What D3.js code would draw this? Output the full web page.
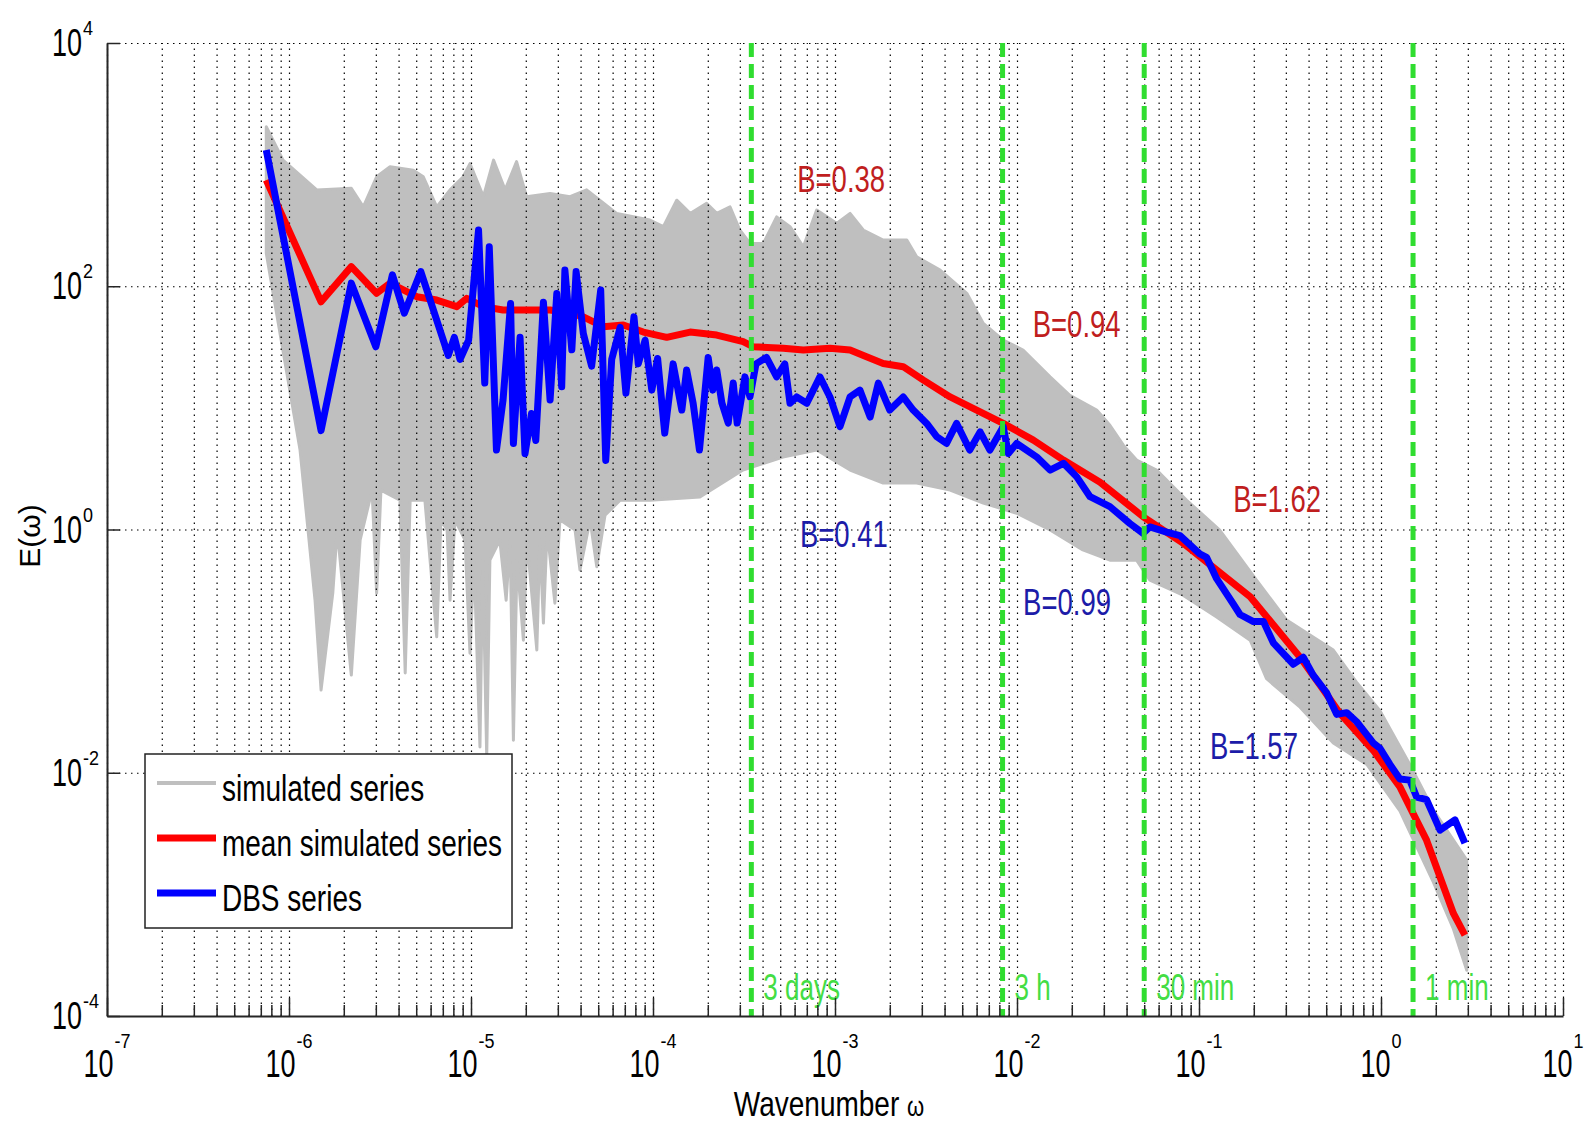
<!DOCTYPE html>
<html>
<head>
<meta charset="utf-8">
<script src="https://cdn.jsdelivr.net/npm/d3@7"></script>
<style>
body { margin: 0; background: #fff; }
svg { display: block; font-family: "Liberation Sans", Arial, sans-serif; }
.grid line { stroke: #000; stroke-width: 1.2; stroke-dasharray: 1.5 4.5; }
.axis path, .axis line { stroke: #262626; }
.axis path { stroke-width: 2; }
.axis line { stroke-width: 1.5; }
</style>
</head>
<body>
<div id="chart"></div>
<script>
// DBS series (wavenumber, energy)
const dbsW = [7.5e-7,1.5e-6,2.2e-6,3.0e-6,3.7e-6,4.3e-6,5.3e-6,7.5e-6,8.1e-6,8.7e-6,
	9.7e-6,1.1e-5,1.19e-5,1.26e-5,1.38e-5,1.5e-5,1.65e-5,1.71e-5,1.86e-5,1.98e-5,
	2.15e-5,2.27e-5,2.5e-5,2.72e-5,2.96e-5,3.15e-5,3.28e-5,3.58e-5,3.78e-5,4.14e-5,
	4.6e-5,5.16e-5,5.5e-5,5.93e-5,6.6e-5,7.1e-5,7.86e-5,8.3e-5,9.05e-5,9.85e-5,
	1.06e-4,1.16e-4,1.29e-4,1.44e-4,1.53e-4,1.66e-4,1.8e-4,2.01e-4,2.13e-4,2.24e-4,
	2.39e-4,2.59e-4,2.76e-4,2.9e-4,3.2e-4,3.41e-4,3.68e-4,4.2e-4,4.78e-4,5.3e-4,
	5.66e-4,6.16e-4,7.0e-4,8.26e-4,9.38e-4,1.065e-3,1.21e-3,1.37e-3,1.56e-3,1.73e-3,
	2.0e-3,2.37e-3,2.69e-3,3.19e-3,3.62e-3,4.1e-3,4.66e-3,5.5e-3,6.27e-3,7.1e-3,
	8.4e-3,8.96e-3,9.96e-3,1.28e-2,1.52e-2,1.8e-2,2.13e-2,2.52e-2,3.24e-2,4.17e-2,
	4.93e-2,5.37e-2,6.64e-2,7.86e-2,0.101,0.110,0.125,0.154,0.168,0.199,
	0.226,0.256,0.33,0.374,0.424,0.503,0.571,0.648,0.733,0.906,
	0.987,1.12,1.27,1.44,1.57,1.78,2.11,2.55,2.89];
const dbsE = [1320,6.5,106,31.8,124,60,132,27,38,25,
	36,290,16,211,4.5,11.6,72,5.1,38,4.2,
	9.0,5.4,74,11.6,87,14.9,136,30,132,41,
	22,93,3.7,25,46,13.2,56,23,36,14,
	25.5,6.2,23,9.6,20.5,11,4.5,26,14,20.5,
	11,7.5,16,7.5,18,12.3,23,26,18,23,
	10.9,12.3,10.9,18,12.3,7.0,12.3,14,8.4,16,
	9.6,12.3,9.6,7.45,5.8,5.1,7.45,4.5,6.35,4.5,
	7.0,4.22,5.1,3.96,3.08,3.5,2.71,1.86,1.54,1.12,
	0.93,1.05,0.95,0.89,0.63,0.59,0.394,0.245,0.20,0.175,
	0.175,0.117,0.078,0.089,0.0635,0.0453,0.0302,0.0312,0.0264,0.0176,
	0.0159,0.0117,0.0089,0.0087,0.0063,0.0060,0.00337,0.0041,0.00264];

// mean of the simulated series
const meanW = [7.5e-7,1.5e-6,2.2e-6,3.03e-6,3.59e-6,5.03e-6,6.48e-6,8.36e-6,9.47e-6,1.17e-5,
	1.5e-5,2.02e-5,2.72e-5,3.5e-5,4.14e-5,5.33e-5,6.87e-5,8.85e-5,1.19e-4,1.6e-4,
	2.24e-4,3.13e-4,3.56e-4,5.2e-4,6.7e-4,9.38e-4,1.21e-3,1.49e-3,1.84e-3,2.37e-3,
	3.06e-3,4.29e-3,6.0e-3,8.4e-3,1.23e-2,1.8e-2,2.86e-2,4.94e-2,8.2e-2,0.125,
	0.191,0.359,0.463,0.595,0.906,1.27,1.5,1.78,2.11,2.5,2.89];
const meanE = [746,74.5,145,87.5,106,82,77,68,79.5,68,
	63.7,63.7,63.7,60,56,46.5,48,42,38,42,
	39.7,35,31.8,30.9,29.9,30.9,29.9,26.3,23.2,21.8,
	16.9,12.3,9.6,7.45,5.43,3.72,2.45,1.27,0.77,0.464,
	0.28,0.089,0.0525,0.0307,0.0153,0.00765,0.00463,0.00279,0.00139,0.000697,0.000462];

// upper and lower edge of the cloud of simulated series
const simUpperW = [7.5e-7,9.27e-7,1.42e-6,2.2e-6,2.56e-6,3.03e-6,3.59e-6,4.82e-6,5.47e-6,6.48e-6,
	7.67e-6,9.06e-6,9.87e-6,1.17e-5,1.33e-5,1.54e-5,1.78e-5,2.02e-5,2.72e-5,3.5e-5,
	4.32e-5,6.31e-5,9.62e-5,1.14e-4,1.35e-4,1.6e-4,1.97e-4,2.24e-4,2.65e-4,3.0e-4,
	3.41e-4,4.04e-4,4.78e-4,5.66e-4,6.7e-4,7.93e-4,1.02e-3,1.21e-3,1.43e-3,1.84e-3,
	2.48e-3,2.81e-3,3.78e-3,5.3e-3,6.53e-3,8.4e-3,1.08e-2,1.52e-2,1.95e-2,2.74e-2,
	3.24e-2,3.84e-2,4.54e-2,5.85e-2,8.56e-2,0.130,0.207,0.303,0.547,0.733,
	0.987,1.44,1.94,2.96];
const simUpperE = [2050,1090,620,640,450,795,960,900,795,450,
	620,795,1020,545,1090,620,1060,545,580,545,
	620,397,350,309,510,397,480,397,450,290,
	225,225,372,309,211,423,329,397,290,240,
	240,175,136,87.5,49.5,36,29.9,18,12.7,9.6,
	7.2,4.94,3.72,3.08,1.74,0.99,0.384,0.18,0.102,0.0556,
	0.0323,0.0117,0.00493,0.00191];
const simLowerW = [7.5e-7,1.15e-6,1.39e-6,1.5e-6,1.74e-6,1.84e-6,2.2e-6,2.46e-6,2.86e-6,3.03e-6,
	3.2e-6,4.07e-6,4.35e-6,4.63e-6,5.58e-6,6.48e-6,6.84e-6,7.39e-6,7.67e-6,8.17e-6,
	9.27e-6,9.87e-6,1.04e-5,1.12e-5,1.16e-5,1.22e-5,1.27e-5,1.44e-5,1.56e-5,1.64e-5,
	1.71e-5,1.79e-5,1.94e-5,2.03e-5,2.3e-5,2.39e-5,2.5e-5,2.62e-5,2.89e-5,3.08e-5,
	3.73e-5,3.97e-5,4.51e-5,4.91e-5,5.45e-5,6.6e-5,9.62e-5,1.81e-4,3.12e-4,5.18e-4,
	7.93e-4,1.21e-3,1.84e-3,2.81e-3,4.29e-3,6.53e-3,9.96e-3,1.52e-2,2.3e-2,3.24e-2,
	4.54e-2,5.37e-2,8.17e-2,0.125,0.191,0.235,0.359,0.547,0.836,1.27,
	1.57,1.94,2.5,2.96];
const simLowerE = [187,4.5,0.262,0.0478,0.30,0.99,0.0635,0.82,2.11,0.30,
	2.11,1.74,0.066,1.74,1.74,0.131,1.2,0.99,0.262,1.2,
	0.82,0.096,0.56,0.0163,0.56,0.0135,0.56,0.82,0.262,0.82,
	0.0185,0.56,0.123,0.82,0.102,0.82,0.17,0.99,0.248,1.2,
	0.99,0.464,1.2,0.493,1.31,1.74,1.74,1.85,3.08,3.94,
	4.5,3.08,2.41,2.41,2.11,1.65,1.36,0.99,0.68,0.56,
	0.56,0.384,0.288,0.191,0.123,0.0593,0.0346,0.0176,0.0117,0.00486,
	0.00247,0.00126,0.00052,0.000238];

// time scale markers
const markW = [3.47e-4, 8.33e-3, 0.05, 1.5];
const markText = ["3 days", "3 h", "30 min", "1 min"];

// slope annotations
const slopeText = ["B=0.38", "B=0.94", "B=1.62", "B=0.41", "B=0.99", "B=1.57"];
const slopeW = [6.2e-4, 1.22e-2, 0.154, 6.42e-4, 1.08e-2, 0.115];
const slopeE = [600, 38, 1.38, 0.72, 0.198, 0.0129];
const slopeOf = ["mean", "mean", "mean", "dbs", "dbs", "dbs"];

const legendText = ["simulated series", "mean simulated series", "DBS series"];
const yMajor = [1e-4, 1e-2, 1, 1e2, 1e4];

const margin = {top: 43, right: 25, bottom: 113, left: 107},
	width = 1588 - margin.left - margin.right,
	height = 1129 - margin.top - margin.bottom;
const gray = "#bfbfbf", red = "#ff0000", blue = "#0000ff", green = "#30dd30";

const svg = d3.select("#chart").append("svg")
	.attr("width", 1588)
	.attr("height", 1129);
const g = svg.append("g")
	.attr("transform", "translate(" + margin.left + "," + margin.top + ")");

const x = d3.scaleLog().domain([1e-7, 10]).range([0, width]);
const y = d3.scaleLog().domain([1e-4, 1e4]).range([height, 0]);
const line = d3.line().x(d => x(d[0])).y(d => y(d[1]));
const zip = (a, b) => a.map((v, i) => [v, b[i]]);

// simulated series cloud
const band = zip(simUpperW, simUpperE).concat(zip(simLowerW, simLowerE).reverse());
g.append("path")
	.attr("d", line(band) + "Z")
	.attr("fill", gray)
	.attr("stroke", gray)
	.attr("stroke-width", 3)
	.attr("stroke-linejoin", "round");

// dotted grid
const xAll = x.ticks();
const xMajor = xAll.filter(v => Math.abs(Math.log10(v) - Math.round(Math.log10(v))) < 1e-9);
const xMinor = xAll.filter(v => !xMajor.includes(v));
g.append("g").attr("class", "grid")
	.attr("transform", "translate(0," + height + ")")
	.call(d3.axisBottom(x).tickValues(xAll).tickSize(-height).tickFormat(""))
	.call(s => s.select(".domain").remove());
g.append("g").attr("class", "grid")
	.call(d3.axisLeft(y).tickValues(yMajor).tickSize(-width).tickFormat(""))
	.call(s => s.select(".domain").remove());

// mean and DBS
g.append("path").attr("d", line(zip(meanW, meanE)))
	.attr("fill", "none").attr("stroke", red).attr("stroke-width", 7).attr("stroke-linejoin", "round");
g.append("path").attr("d", line(zip(dbsW, dbsE)))
	.attr("fill", "none").attr("stroke", blue).attr("stroke-width", 7).attr("stroke-linejoin", "round");

// time scale markers
g.selectAll(".mark").data(markW).enter().append("line")
	.attr("class", "mark")
	.attr("x1", d => x(d)).attr("x2", d => x(d))
	.attr("y1", 0).attr("y2", height)
	.attr("stroke", green).attr("stroke-width", 5).attr("stroke-dasharray", "14 7");
g.selectAll(".markText").data(markW).enter().append("text")
	.attr("class", "markText")
	.attr("transform", d => "translate(" + (x(d) + 12) + "," + (height - 16) + ") scale(1,1.4)")
	.attr("font-size", 26)
	.attr("fill", "#44dd44")
	.text((d, i) => markText[i]);

// slope labels
slopeText.forEach((t, i) => {
	g.append("text")
		.attr("transform", "translate(" + x(slopeW[i]) + "," + y(slopeE[i]) + ") scale(1,1.37)")
		.attr("font-size", 27.5)
		.attr("fill", slopeOf[i] === "mean" ? "#c01e1e" : "#1c1ca8")
		.text(t);
});

// axes
g.append("g").attr("class", "axis")
	.attr("transform", "translate(0," + height + ")")
	.call(d3.axisBottom(x).tickValues(xMinor).tickSize(-11).tickSizeOuter(0).tickFormat(""));
g.append("g").attr("class", "axis")
	.attr("transform", "translate(0," + height + ")")
	.call(d3.axisBottom(x).tickValues(xMajor).tickSize(-18).tickSizeOuter(0).tickFormat(""))
	.call(s => s.select(".domain").remove());
g.append("g").attr("class", "axis")
	.call(d3.axisLeft(y).tickValues(yMajor).tickSize(-13).tickSizeOuter(0).tickFormat(""));

// power-of-ten tick labels
xMajor.forEach(v => {
	const e = Math.round(Math.log10(v));
	const lab = g.append("g");
	const base = lab.append("text").attr("font-size", 27).attr("transform", "scale(1,1.45)").text("10");
	const wb = base.node().getComputedTextLength();
	const sup = lab.append("text").attr("font-size", 18)
		.attr("transform", "translate(" + (wb + 1) + ",-29) scale(1,1.15)").text(e);
	const ws = sup.node().getComputedTextLength();
	lab.attr("transform", "translate(" + (x(v) - (wb + 1 + ws) / 2) + "," + (height + 61) + ")");
});
yMajor.forEach(v => {
	const e = Math.round(Math.log10(v));
	const lab = g.append("g").attr("transform", "translate(-25," + (y(v) + 13) + ")");
	lab.append("text").attr("font-size", 27).attr("text-anchor", "end")
		.attr("transform", "scale(1,1.45)").text("10");
	lab.append("text").attr("font-size", 18)
		.attr("transform", "translate(1,-21) scale(1,1.15)").text(e);
});

// axis titles
svg.append("text")
	.attr("transform", "translate(829,1116) scale(1,1.25)")
	.attr("text-anchor", "middle")
	.attr("font-size", 28)
	.text("Wavenumber ")
	.append("tspan").attr("font-size", 22).text("ω");
svg.append("text")
	.attr("transform", "translate(40,536) rotate(-90)")
	.attr("text-anchor", "middle")
	.attr("font-size", 30)
	.text("E(ω)");

// legend
const legend = svg.append("g").attr("transform", "translate(145,754)");
legend.append("rect")
	.attr("width", 367).attr("height", 174)
	.attr("fill", "#fff").attr("stroke", "#222").attr("stroke-width", 1.5);
const legendColor = [gray, red, blue];
const legendWidth = [4, 7, 7];
legendText.forEach((t, i) => {
	const ly = 29 + i * 55;
	legend.append("line")
		.attr("x1", 12).attr("x2", 71).attr("y1", ly).attr("y2", ly)
		.attr("stroke", legendColor[i]).attr("stroke-width", legendWidth[i]);
	legend.append("text")
		.attr("transform", "translate(77," + (ly + 18) + ") scale(1,1.32)")
		.attr("font-size", 28)
		.text(t);
});
</script>
</body>
</html>
